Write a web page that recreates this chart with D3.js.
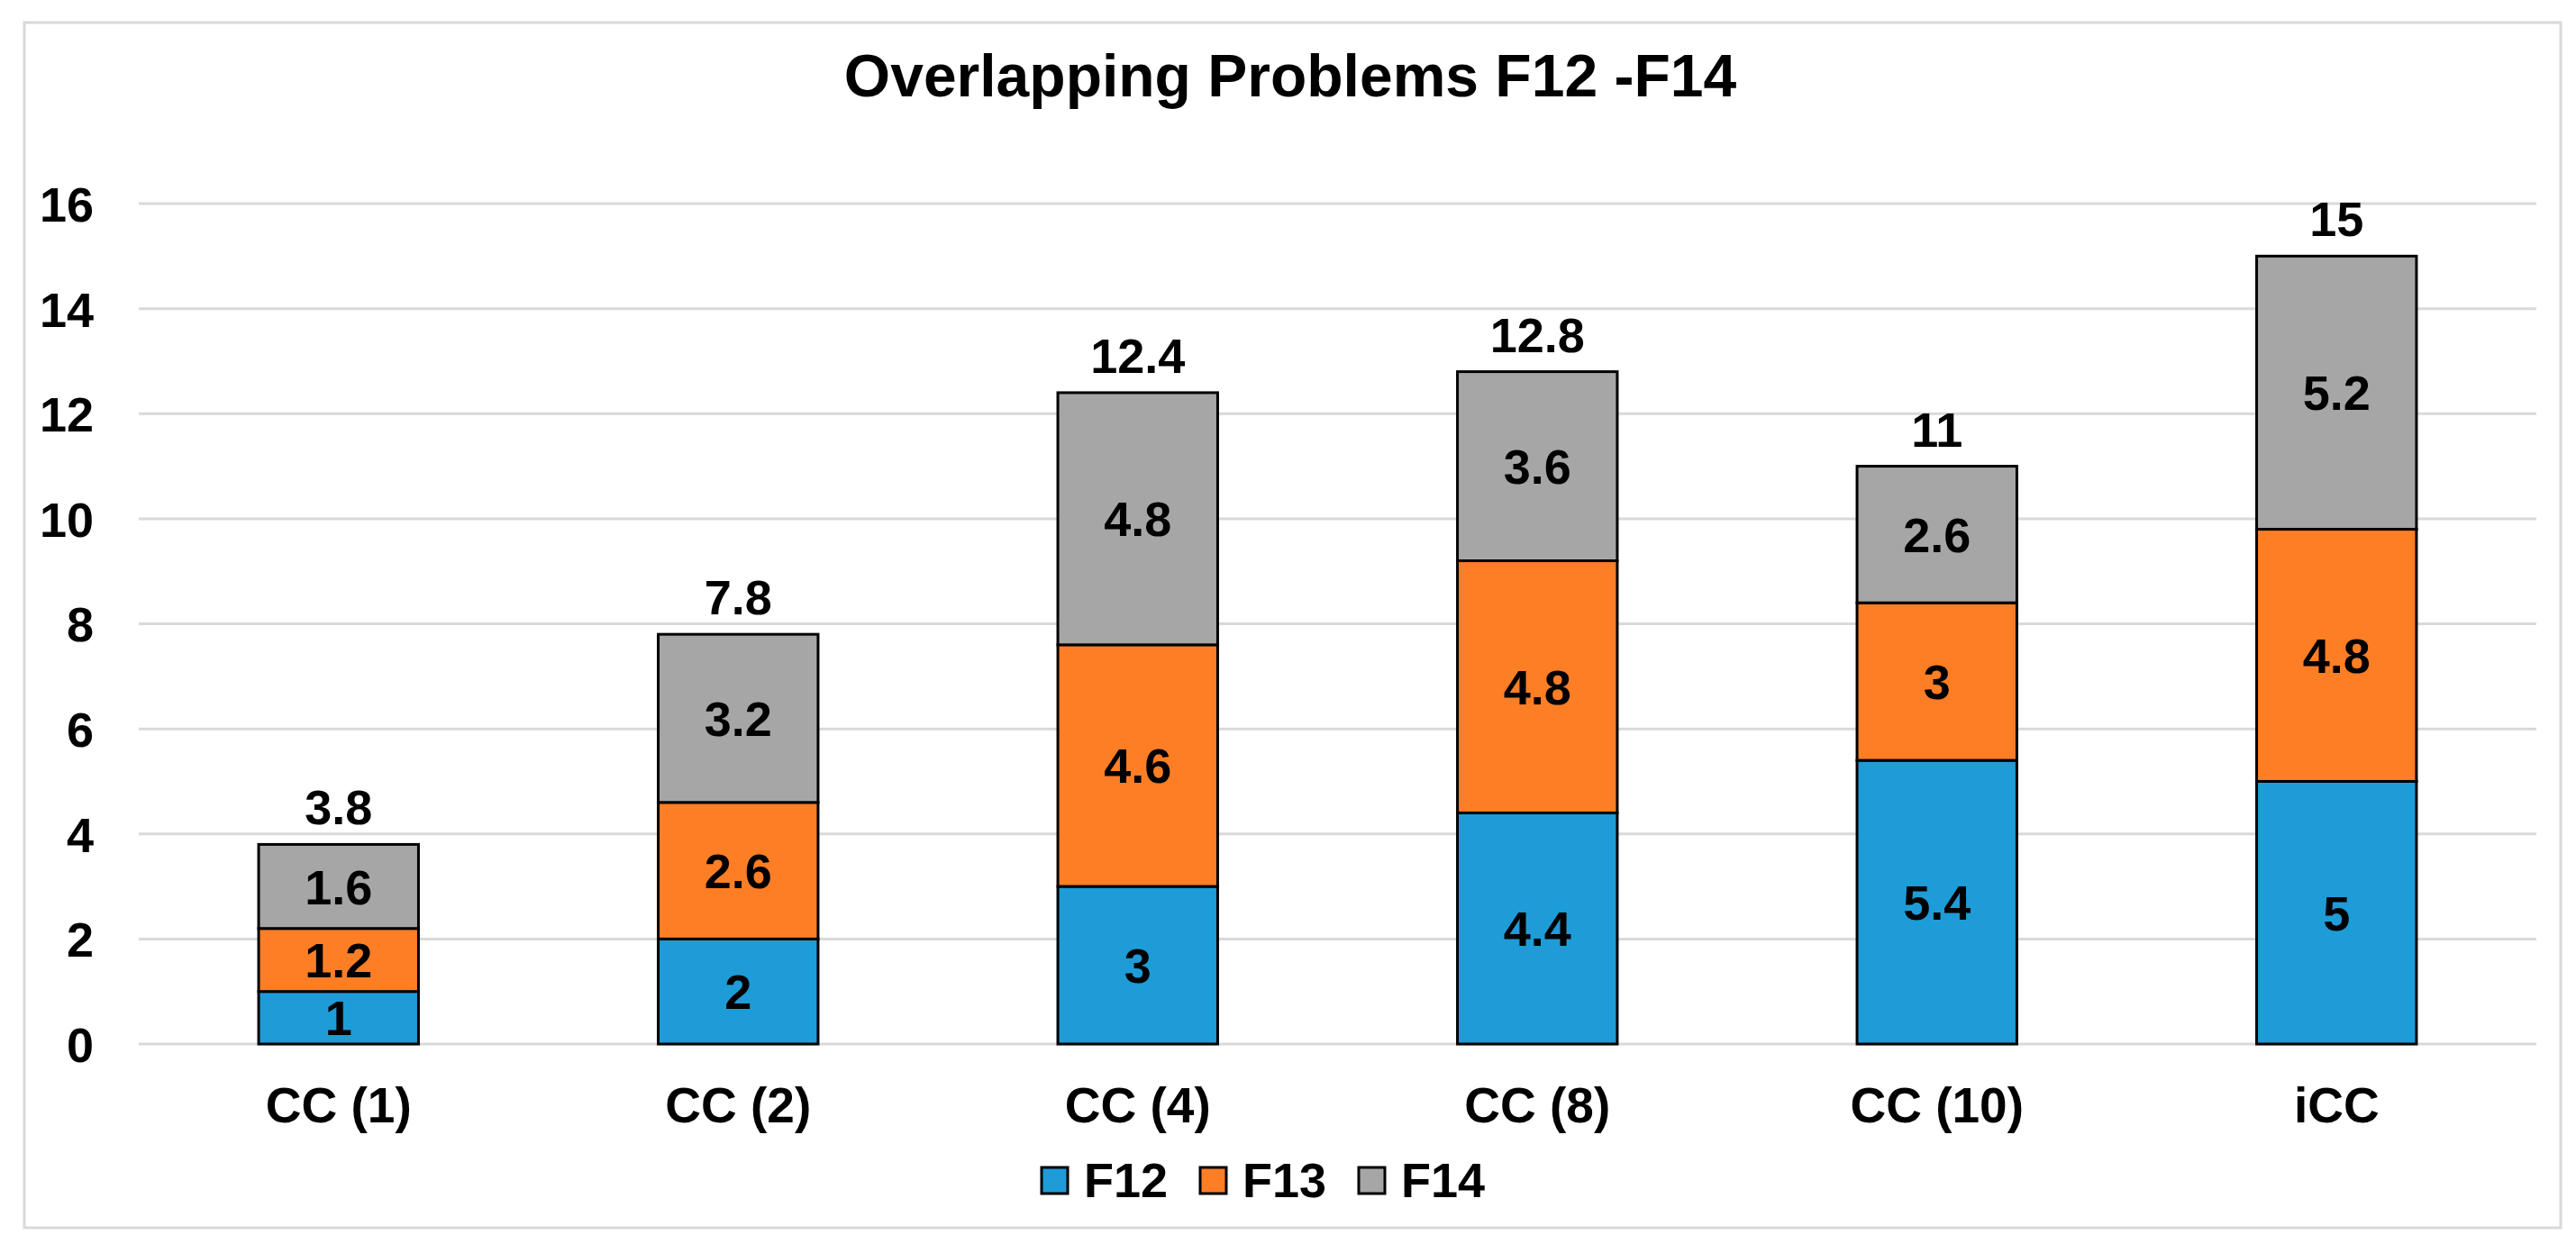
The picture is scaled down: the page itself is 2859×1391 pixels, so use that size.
<!DOCTYPE html>
<html>
<head>
<meta charset="utf-8">
<script src="https://cdn.jsdelivr.net/npm/d3@7"></script>
<style>
  body { margin: 0; background: #fff; }
  text { font-family: "Liberation Sans", Arial, sans-serif; font-weight: bold; fill: #000; }
</style>
</head>
<body>
<svg id="chart"></svg>
<script>
// chart data
const categories = ['CC (1)', 'CC (2)', 'CC (4)', 'CC (8)', 'CC (10)', 'iCC'];
const seriesNames = ['F12', 'F13', 'F14'];
const f12 = [1, 2, 3, 4.4, 5.4, 5];
const f13 = [1.2, 2.6, 4.6, 4.8, 3, 4.8];
const f14 = [1.6, 3.2, 4.8, 3.6, 2.6, 5.2];
const totals = [3.8, 7.8, 12.4, 12.8, 11, 15];
const yTicks = [0, 2, 4, 6, 8, 10, 12, 14, 16];
const colors = ['#1E9CD7', '#FE7E26', '#A6A6A6'];

const width = 2859;
const height = 1391;

const svg = d3.select('#chart')
  .attr('width', width)
  .attr('height', height);

// outer chart border
svg.append('rect')
  .attr('x', 27).attr('y', 25)
  .attr('width', 2815).attr('height', 1338)
  .attr('fill', 'none')
  .attr('stroke', '#d9d9d9')
  .attr('stroke-width', 3);

// title
svg.append('text')
  .attr('x', 1432)
  .attr('y', 107)
  .attr('text-anchor', 'middle')
  .style('font-size', '66px')
  .text('Overlapping Problems F12 -F14');

const x = d3.scaleBand()
  .domain(categories)
  .range([154, 2815])
  .paddingInner(0.6)
  .paddingOuter(0.3);

const y = d3.scaleLinear()
  .domain([0, 16])
  .range([1159, 226]);

// gridlines
svg.append('g')
  .selectAll('line')
  .data(yTicks)
  .enter()
  .append('line')
  .attr('x1', 154)
  .attr('x2', 2815)
  .attr('y1', d => y(d))
  .attr('y2', d => y(d))
  .attr('stroke', '#d9d9d9')
  .attr('stroke-width', 3);

// y axis labels
const yAxis = d3.axisLeft(y).tickValues(yTicks).tickSize(0).tickPadding(50);
const yg = svg.append('g')
  .attr('transform', 'translate(154,0)')
  .call(yAxis);
yg.select('.domain').remove();
yg.selectAll('text')
  .style('font-size', '54px')
  .attr('dy', '0.36em');

// x axis labels
const xAxis = d3.axisBottom(x).tickSize(0).tickPadding(0);
const xg = svg.append('g')
  .attr('transform', 'translate(0,1246)')
  .call(xAxis);
xg.select('.domain').remove();
xg.selectAll('text')
  .style('font-size', '55px')
  .attr('dy', 0)
  .attr('y', 0);

// stack the series
const rows = categories.map((c, i) => ({ cat: c, F12: f12[i], F13: f13[i], F14: f14[i] }));
const stacked = d3.stack().keys(seriesNames)(rows);

const layers = svg.append('g')
  .selectAll('g')
  .data(stacked)
  .enter()
  .append('g')
  .attr('fill', (d, i) => colors[i]);

layers.selectAll('rect')
  .data(d => d)
  .enter()
  .append('rect')
  .attr('x', d => x(d.data.cat))
  .attr('width', x.bandwidth())
  .attr('y', d => y(d[1]))
  .attr('height', d => y(d[0]) - y(d[1]))
  .attr('stroke', '#000')
  .attr('stroke-width', 3);

// segment labels
layers.selectAll('text')
  .data(d => d.map(s => ({ s: s, key: d.key })))
  .enter()
  .append('text')
  .attr('x', d => x(d.s.data.cat) + x.bandwidth() / 2)
  .attr('y', d => (y(d.s[0]) + y(d.s[1])) / 2)
  .attr('dy', '0.36em')
  .attr('text-anchor', 'middle')
  .style('font-size', '54px')
  .text(d => d.s.data[d.key]);

// total labels
svg.append('g')
  .selectAll('text')
  .data(totals)
  .enter()
  .append('text')
  .attr('x', (d, i) => x(categories[i]) + x.bandwidth() / 2)
  .attr('y', d => y(d) - 22)
  .attr('text-anchor', 'middle')
  .style('font-size', '54px')
  .text(d => d);

// legend
const legend = svg.append('g')
  .attr('transform', 'translate(1156,1296)');

const items = legend.selectAll('g')
  .data(seriesNames)
  .enter()
  .append('g')
  .attr('transform', (d, i) => `translate(${i * 176},0)`);

items.append('rect')
  .attr('width', 29)
  .attr('height', 29)
  .attr('fill', (d, i) => colors[i])
  .attr('stroke', '#000')
  .attr('stroke-width', 3);

items.append('text')
  .attr('x', 47)
  .attr('y', 33)
  .style('font-size', '54px')
  .text(d => d);
</script>
</body>
</html>
